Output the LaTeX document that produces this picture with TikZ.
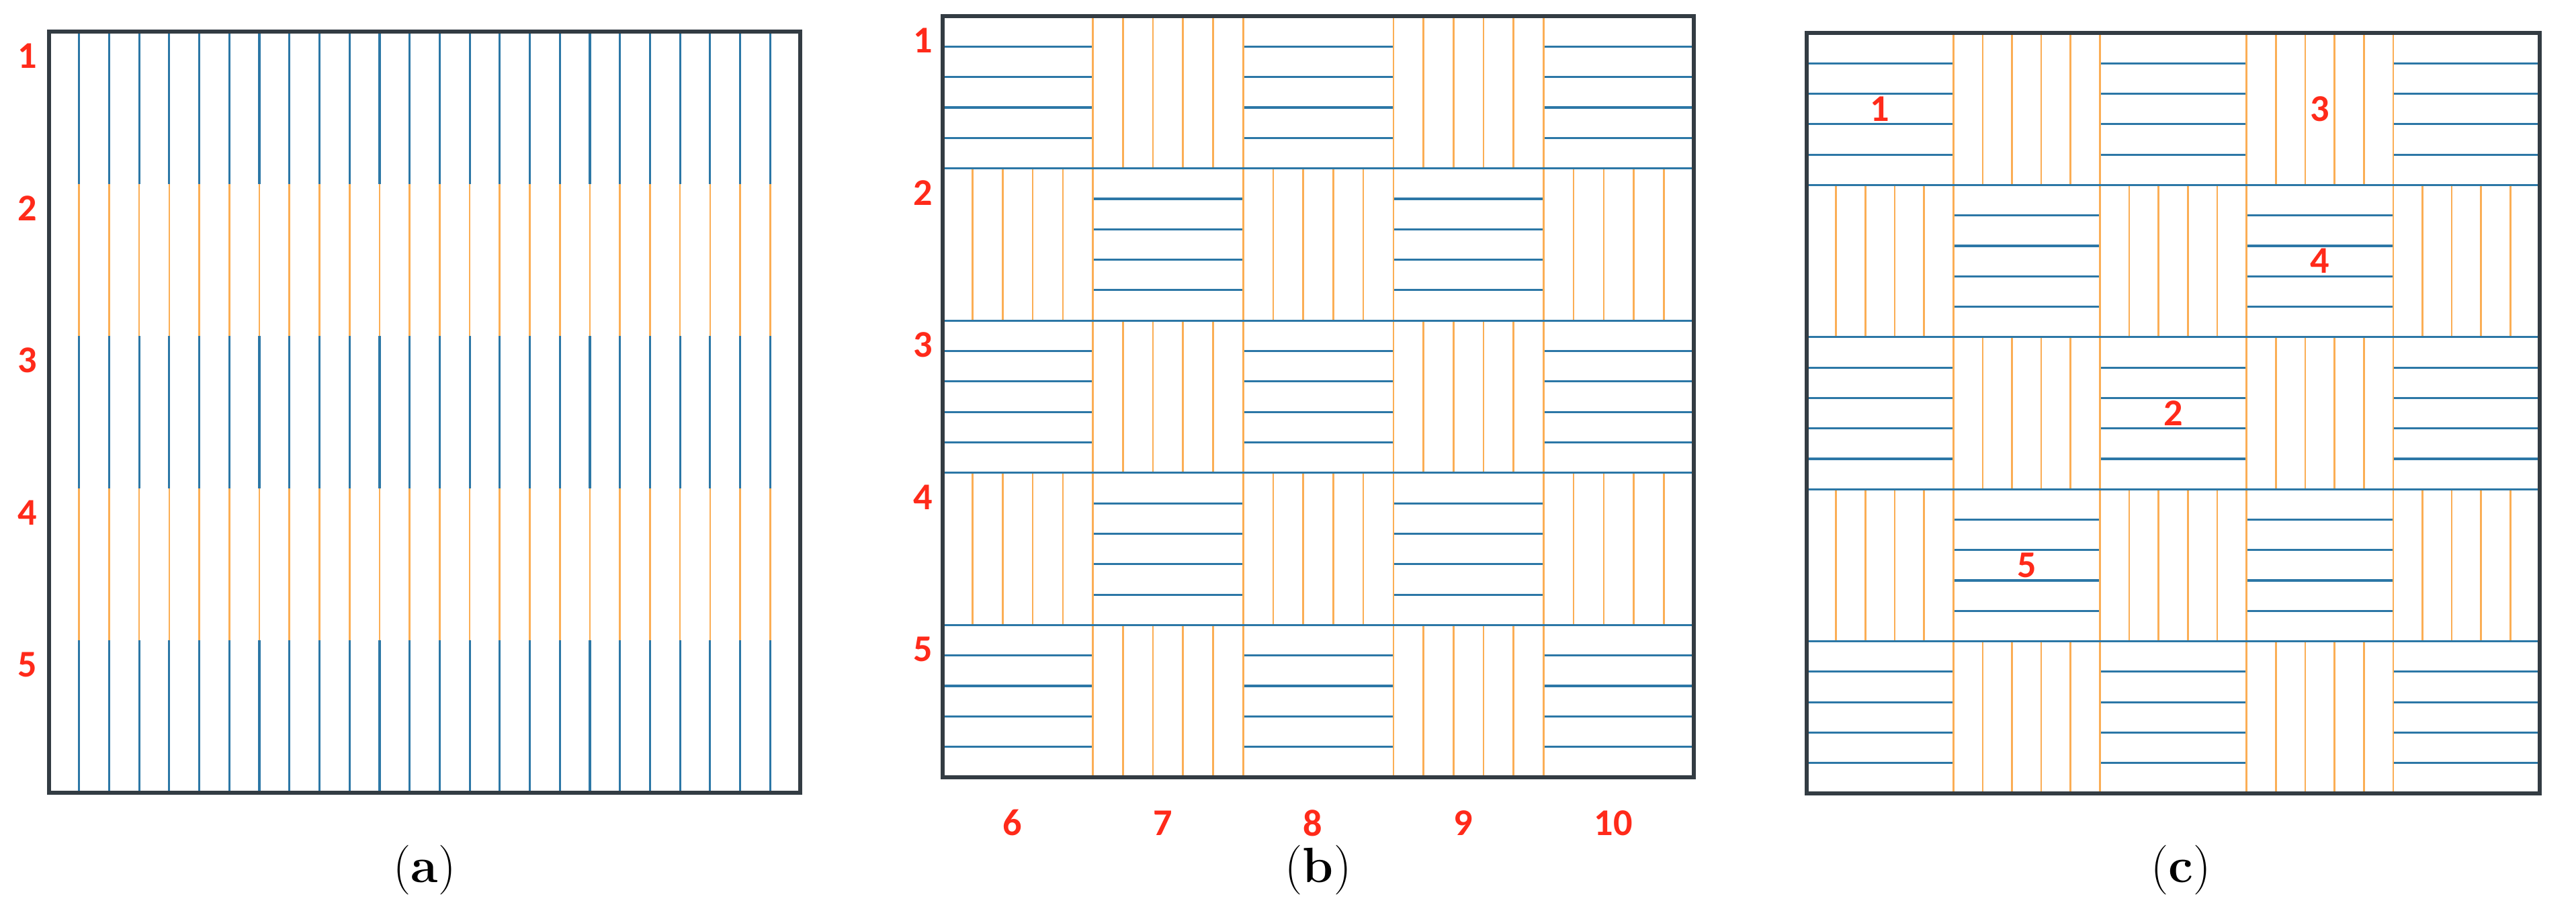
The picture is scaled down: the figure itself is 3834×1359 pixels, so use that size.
\documentclass[tikz,border=0pt]{standalone}
\usepackage{fontspec}
\newfontfamily\lblfont{Carlito}
\definecolor{wblue}{HTML}{2C77A6}
\definecolor{worange}{HTML}{FBAE55}
\definecolor{wbox}{HTML}{333C43}
\definecolor{wred}{HTML}{FF2A1A}
\tikzset{
  bl/.style={wblue,line width=1.8pt},
  orl/.style={worange,line width=1.5pt},
  boxl/.style={wbox,line width=3pt},
  lbl/.style={text=wred,font=\lblfont\bfseries\fontsize{32}{33}\selectfont,inner sep=0pt},
  captxt/.style={font=\fontsize{42}{44}\selectfont,inner sep=0pt}
}
\begin{document}
\begin{tikzpicture}[x=0.02cm,y=-0.02cm]
\useasboundingbox (0,0) rectangle (3834,1359);
% ---------- (a)
\foreach \i in {1,...,24}{
  \pgfmathsetmacro\xx{73+44.72*\i}
  \foreach \b in {0,...,4}{
    \pgfmathsetmacro\ya{47+226.6*\b}
    \pgfmathsetmacro\yb{47+226.6*(\b+1)}
    \pgfmathtruncatemacro\oddb{mod(\b,2)}
    \ifnum\oddb=0
      \draw[bl] (\xx,\ya) -- (\xx,\yb);
    \else
      \draw[orl] (\xx,\ya) -- (\xx,\yb);
    \fi
  }
}
\draw[boxl] (73,47) rectangle (1191,1180);
\foreach \b in {1,...,5}{
  \node[lbl] (la\b) at (41,{47+226.6*(\b-1)+36}) {\b};
}
\node[captxt] (capa) at (632,1295) {(\textbf{a})};
% ---------- (b) and (c)
\foreach \X/\Y/\W/\H/\P in {1403/24/223.6/226.6/b, 2689/49/218.2/226.4/c}{
  \foreach \r in {0,...,4}{
    \foreach \c in {0,...,4}{
      \pgfmathsetmacro\xl{\X+\W*\c}
      \pgfmathsetmacro\xr{\X+\W*(\c+1)}
      \pgfmathsetmacro\yt{\Y+\H*\r}
      \pgfmathsetmacro\ybm{\Y+\H*(\r+1)}
      \pgfmathtruncatemacro\parity{mod(\r+\c,2)}
      \ifnum\parity=0
        \foreach \k in {1,...,4}{
          \draw[bl] (\xl,{\yt+\H*\k/5}) -- (\xr,{\yt+\H*\k/5});
        }
      \else
        \foreach \k in {1,...,4}{
          \draw[orl] ({\xl+\W*\k/5},\yt) -- ({\xl+\W*\k/5},\ybm);
        }
      \fi
    }
  }
  \foreach \c in {1,...,4}{
    \draw[orl] ({\X+\W*\c},\Y) -- ({\X+\W*\c},{\Y+5*\H});
  }
  \foreach \r in {1,...,4}{
    \draw[bl] (\X,{\Y+\H*\r}) -- ({\X+5*\W},{\Y+\H*\r});
  }
  \draw[boxl] (\X,\Y) rectangle ({\X+5*\W},{\Y+5*\H});
}
\foreach \b in {1,...,5}{
  \node[lbl] (lb\b) at (1374,{24+226.6*(\b-1)+36}) {\b};
}
\foreach \n [count=\c from 0] in {6,7,8,9,10}{
  \node[lbl] (lc\n) at ({1403+223.6*(\c+0.5)-8},1225) {\n};
}
\node[captxt] (capb) at (1962,1295) {(\textbf{b})};
% labels inside (c)
\node[lbl] (c1) at ({2689+218.2*0.5},{49+226.4*0.5}) {1};
\node[lbl] (c3) at ({2689+218.2*3.5},{49+226.4*0.5}) {3};
\node[lbl] (c4) at ({2689+218.2*3.5},{49+226.4*1.5}) {4};
\node[lbl] (c2) at ({2689+218.2*2.5},{49+226.4*2.5}) {2};
\node[lbl] (c5) at ({2689+218.2*1.5},{49+226.4*3.5}) {5};
\node[captxt] (capc) at (3246,1295) {(\textbf{c})};
\end{tikzpicture}
\end{document}
